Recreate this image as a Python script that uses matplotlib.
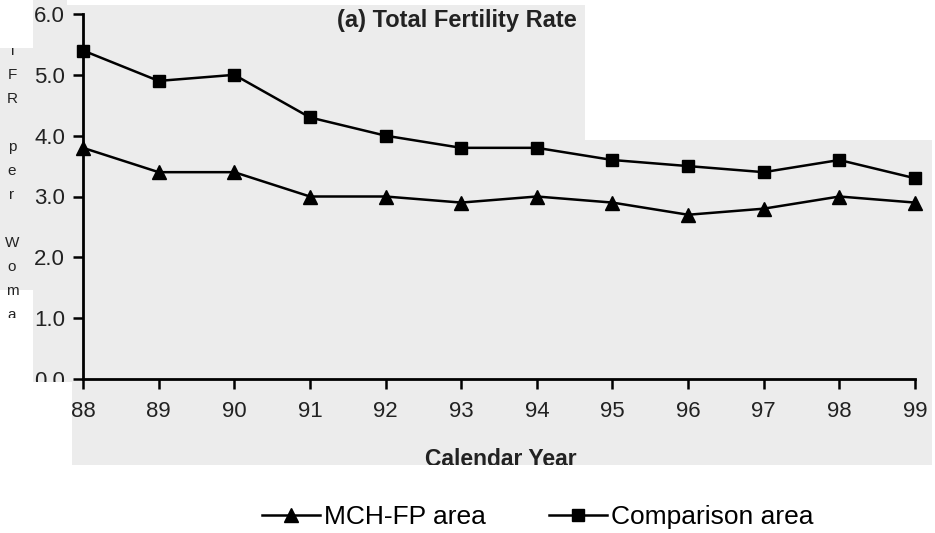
import matplotlib
matplotlib.use("Agg")
import matplotlib.pyplot as plt
from matplotlib.patches import Rectangle
from matplotlib.transforms import Bbox, TransformedBbox

plt.rcParams['font.family'] = ['Liberation Sans', 'DejaVu Sans']

years = [88, 89, 90, 91, 92, 93, 94, 95, 96, 97, 98, 99]
mch_fp = [3.8, 3.4, 3.4, 3.0, 3.0, 2.9, 3.0, 2.9, 2.7, 2.8, 3.0, 2.9]
comparison = [5.4, 4.9, 5.0, 4.3, 4.0, 3.8, 3.8, 3.6, 3.5, 3.4, 3.6, 3.3]
y_ticks = [0.0, 1.0, 2.0, 3.0, 4.0, 5.0, 6.0]
ylabel_letters = ['T', 'F', 'R', '', 'p', 'e', 'r', '', 'W', 'o', 'm', 'a', 'n']

W, H = 935, 533
fig = plt.figure(figsize=(W / 100, H / 100), dpi=100)
fig.patch.set_facecolor('white')

gray = '#ececec'
def px_rect(x, y, w, h):
    return (x / W, 1 - (y + h) / H, w / W, h / H)

def px_clip(x0, y0, x1, y1):
    return TransformedBbox(Bbox([[x0 / W, 1 - y1 / H], [x1 / W, 1 - y0 / H]]), fig.transFigure)

# scanned-page gray background patches
for (x, y, w, h) in [(33, 0, 34, 5), (33, 5, 552, 135), (33, 140, 899, 242),
                     (72, 382, 860, 83), (0, 48, 33, 242)]:
    fx, fy, fw, fh = px_rect(x, y, w, h)
    fig.add_artist(Rectangle((fx, fy), fw, fh, transform=fig.transFigure,
                             facecolor=gray, edgecolor='none', zorder=0))

ax = fig.add_axes([83 / W, 1 - 379 / H, (915 - 83) / W, (379 - 14) / H])
ax.set_facecolor('none')

ax.plot(years, mch_fp, color='black', lw=1.8, marker='^', markersize=10,
        label='MCH-FP area', clip_on=False, zorder=3)
ax.plot(years, comparison, color='black', lw=1.8, marker='s', markersize=9,
        label='Comparison area', clip_on=False, zorder=3)

ax.set_xlim(88, 99)
ax.set_ylim(0, 6)
ax.set_xticks(years)
ax.set_xticklabels([str(y) for y in years])
ax.set_yticks(y_ticks)
ax.set_yticklabels([f'{v:.1f}' for v in y_ticks])

for s in ['top', 'right']:
    ax.spines[s].set_visible(False)
for s in ['left', 'bottom']:
    ax.spines[s].set_linewidth(2.0)
ax.tick_params(axis='both', width=1.8, length=7, labelsize=16, colors='black')
ax.tick_params(axis='x', pad=9, labelcolor='#222222')
ax.tick_params(axis='y', pad=6, labelcolor='#222222')

# clip the partially hidden 0.0 label at the scan edge
fig.canvas.draw()
lab_clip = px_clip(0, 0, W, 382)
for lab in ax.get_yticklabels():
    lab.set_clip_box(lab_clip)
    lab.set_clip_on(True)

fig.text(457 / W, 1 - 20 / H, '(a) Total Fertility Rate', ha='center',
         va='center', fontsize=17, fontweight='bold', color='#222222')

# x-axis label, clipped at the scan edge
xl = fig.text(501 / W, 1 - 466 / H, 'Calendar Year', ha='center', va='baseline',
              fontsize=16.5, fontweight='bold', color='#222222')
xl.set_clip_box(px_clip(0, 0, W, 465))
xl.set_clip_on(True)

# stacked vertical y label, clipped at the scan edges
ylclip = px_clip(0, 48, W, 318)
for i, ch in enumerate(ylabel_letters):
    if not ch:
        continue
    t = fig.text(12 / W, 1 - (51 + 24 * i) / H, ch, ha='center', va='center',
                 fontsize=11, color='#222222')
    t.set_clip_box(ylclip)
    t.set_clip_on(True)

fig.legend(loc='center', bbox_to_anchor=(538 / W, 1 - 517 / H), ncol=2, frameon=False,
           fontsize=19, handlelength=2.2, columnspacing=2.4, handletextpad=0.15)

fig.savefig('out.png', dpi=100)
